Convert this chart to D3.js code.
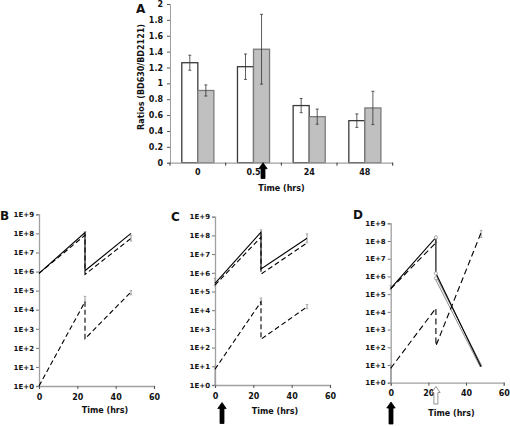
<!DOCTYPE html>
<html><head><meta charset="utf-8">
<script src="https://cdn.jsdelivr.net/npm/d3@7"></script>
<style>body{margin:0;background:#fff}svg{display:block}text{font-family:"DejaVu Sans",Verdana,sans-serif;font-weight:bold;fill:#111}</style>
</head><body>
<svg id="c" width="510" height="426"></svg>
<script>
// ---- Panel A data ----
const barCategories = ["0","0.5","24","48"];
const whiteValues = [1.26,1.21,0.72,0.53];
const whiteErr    = [0.095,0.16,0.09,0.085];
const grayValues  = [0.91,1.43,0.58,0.69];
const grayErr     = [0.07,0.44,0.095,0.21];
const barYTicks   = [0,0.2,0.4,0.6,0.8,1,1.2,1.4,1.6,1.8,2];

// ---- Panels B-D data (time in hrs, CFU) ----
const timePoints = [0,24,24,48];
const logTicks = [1,1e1,1e2,1e3,1e4,1e5,1e6,1e7,1e8,1e9];
const logTickLabels = ["1E+0","1E+1","1E+2","1E+3","1E+4","1E+5","1E+6","1E+7","1E+8","1E+9"];
const timeTicks = [0,20,40,60];

const bSolid     = [8e5,1.1e8,1.1e6,1e8];
const bDashUpper = [8e5,8e7,7e5,5.5e7];
const bDashLower = [1,2.6e4,3e2,8.5e4];

const cSolid     = [2.7e5,1.5e8,1.6e6,7e7];
const cDashUpper = [2.2e5,8e7,8.5e5,4e7];
const cDashLower = [7,2.8e4,2.8e2,1.5e4];

const dSolid     = [2.1e5,1.6e8,1.5e6,8];
const dDashUpperT = [0,24];
const dDashUpper = [2e5,8e7];
const dDottedT   = [24,48];
const dDotted    = [8e5,8];
const dDashLower = [6.5,1.6e4,1.2e2,3e8];

// error bars: [time, low, high]
const bErr = [[24,2.6e4,5e4],[48,6e4,1e5],[48,4e7,8e7],[24,8e7,1.2e8]];
const cErr = [[0,1,10],[24,2e4,4.5e4],[48,1.2e4,2e4],[48,4e7,1.2e8],[24,1e8,2e8],[0,2e5,5e5]];
const dErr = [[0,1,10],[48,1.6e8,4e8],[24,8e7,1.8e8],[0,1.8e5,3e5]];

const svg = d3.select("#c");
const axisGray = "#a0a0a0";

// ================= Panel A =================
(function(){
  const x = d3.scaleBand().domain(barCategories).range([170,392.7]);
  const sub = d3.scaleBand().domain(["w","g"]).range([11.8, x.bandwidth()-11.8]);
  const y = d3.scaleLinear().domain([0,2]).range([162.7,4]);
  const g = svg.append("g");
  // y axis
  const ya = g.append("g").attr("transform","translate(170,0)")
    .call(d3.axisLeft(y).tickValues(barYTicks).tickSize(3).tickPadding(4).tickFormat(d=>d3.format("")(+d.toFixed(1))));
  ya.select(".domain").attr("stroke",axisGray);
  ya.selectAll(".tick line").attr("stroke","#555");
  ya.selectAll("text").attr("font-size",8).attr("font-family","DejaVu Sans").attr("font-weight","bold").attr("fill","#111");
  // bars
  const groups = barCategories.map((c,i)=>({c,i}));
  const series = [{k:"w",v:whiteValues,e:whiteErr,fill:"#ffffff",stroke:"#3a3a3a"},
                  {k:"g",v:grayValues,e:grayErr,fill:"#c0c0c0",stroke:"#7a7a7a"}];
  series.forEach(s=>{
    g.selectAll(null).data(groups).enter().append("rect")
      .attr("x",d=>x(d.c)+sub(s.k)).attr("width",sub.bandwidth())
      .attr("y",d=>y(s.v[d.i])).attr("height",d=>y(0)-y(s.v[d.i]))
      .attr("fill",s.fill).attr("stroke",s.stroke).attr("stroke-width",1.3);
  });
  series.forEach(s=>{
    groups.forEach(d=>{
      const cx = x(d.c)+sub(s.k)+sub.bandwidth()/2;
      const lo = y(s.v[d.i]-s.e[d.i]), hi = y(s.v[d.i]+s.e[d.i]);
      g.append("line").attr("x1",cx).attr("x2",cx).attr("y1",lo).attr("y2",hi).attr("stroke","#333").attr("stroke-width",0.8);
      [lo,hi].forEach(yy=>g.append("line").attr("x1",cx-1.5).attr("x2",cx+1.5).attr("y1",yy).attr("y2",yy).attr("stroke","#333").attr("stroke-width",0.8));
    });
  });
  // x axis
  const xa = g.append("g").attr("transform",`translate(0,${y(0)})`)
    .call(d3.axisBottom(x).tickSize(0).tickPadding(7));
  xa.select(".domain").attr("stroke",axisGray).attr("stroke-width",1.2);
  xa.selectAll("text").attr("font-size",8).attr("font-family","DejaVu Sans").attr("font-weight","bold").attr("fill","#111");
  const bounds = barCategories.map(c=>x(c)).concat([x.range()[1]]);
  g.selectAll(null).data(bounds).enter().append("line")
    .attr("x1",d=>d).attr("x2",d=>d).attr("y1",y(0)).attr("y2",y(0)+3).attr("stroke","#333");
  g.append("text").attr("x",281.5).attr("y",191).attr("text-anchor","middle").attr("font-size",8).text("Time (hrs)");
  g.append("text").attr("transform","translate(143.5,77) rotate(-90)").attr("text-anchor","middle").attr("font-size",8).text("Ratios (BD630/BD2121)");
  g.append("text").attr("x",136).attr("y",13).attr("font-size",12).text("A");
  // arrow
  drawArrow(g, 263, 162.7, 178.5, "#000", "#000");
})();

function drawArrow(g, cx, top, bottom, fill, stroke){
  const hw = 4.2, sw = 2, hh = 6;
  const pts = [[cx,top],[cx+hw,top+hh],[cx+sw,top+hh],[cx+sw,bottom],[cx-sw,bottom],[cx-sw,top+hh],[cx-hw,top+hh]];
  g.append("path").attr("d","M"+pts.map(p=>p.join(",")).join("L")+"Z").attr("fill",fill).attr("stroke",stroke).attr("stroke-width",0.8);
}

// ================= Log panels =================
function logPanel(opt){
  const x = d3.scaleLinear().domain([0,60]).range(opt.xr);
  const y = d3.scaleLog().domain([1,1e9]).range(opt.yr);
  const g = svg.append("g");
  const ya = g.append("g").attr("transform",`translate(${opt.xr[0]},0)`)
    .call(d3.axisLeft(y).tickValues(logTicks).tickSize(3).tickPadding(2).tickFormat((d,i)=>logTickLabels[i]));
  ya.select(".domain").attr("stroke",axisGray).attr("stroke-width",1.3);
  ya.selectAll(".tick line").attr("stroke","#777");
  ya.selectAll("text").attr("font-size",7).attr("font-family","DejaVu Sans").attr("font-weight","bold").attr("fill","#111");
  const xa = g.append("g").attr("transform",`translate(0,${opt.yr[0]})`)
    .call(d3.axisBottom(x).tickValues(timeTicks).tickSize(3).tickPadding(5));
  xa.select(".domain").attr("stroke",axisGray).attr("stroke-width",1.3);
  xa.selectAll(".tick line").attr("stroke","#555");
  xa.selectAll("text").attr("font-size",8).attr("font-family","DejaVu Sans").attr("font-weight","bold").attr("fill","#111");
  g.append("text").attr("x",opt.titleX).attr("y",opt.titleY).attr("text-anchor","middle").attr("font-size",8).text("Time (hrs)");
  g.append("text").attr("x",opt.lx).attr("y",opt.ly).attr("font-size",12).text(opt.label);
  const line = d3.line().x(d=>x(d[0])).y(d=>y(d[1]));
  // error bars
  (opt.err||[]).forEach(e=>{
    const cx=x(e[0]);
    g.append("line").attr("x1",cx).attr("x2",cx).attr("y1",y(e[1])).attr("y2",y(e[2])).attr("stroke","#999").attr("stroke-width",1);
    [e[1],e[2]].forEach(v=>g.append("line").attr("x1",cx-1.3).attr("x2",cx+1.3).attr("y1",y(v)).attr("y2",y(v)).attr("stroke","#999").attr("stroke-width",0.8));
  });
  opt.series.forEach(s=>{
    const pts = s.t.map((t,i)=>[t,s.v[i]]);
    if(s.double){
      g.append("path").attr("d",line(pts)).attr("fill","none").attr("stroke","#8a8a8a").attr("stroke-width",2.6);
      g.append("path").attr("d",line(pts)).attr("fill","none").attr("stroke","#fff").attr("stroke-width",1);
    } else {
      g.append("path").attr("d",line(pts)).attr("fill","none").attr("stroke",s.color||"#000")
        .attr("stroke-width",s.w||1.1).attr("stroke-dasharray",s.dash||null);
    }
    (s.markers||[]).forEach(i=>{
      g.append("circle").attr("cx",x(s.t[i])).attr("cy",y(s.v[i])).attr("r",1.6).attr("fill","#fff").attr("stroke","#999").attr("stroke-width",0.8);
    });
  });
  return {g,x,y};
}

logPanel({xr:[39,154], yr:[386,214.3], label:"B", lx:0, ly:220, titleX:105, titleY:413, err:bErr,
  series:[
    {t:timePoints, v:bDashLower, dash:"5,3"},
    {t:timePoints, v:bDashUpper, dash:"5,3"},
    {t:timePoints, v:bSolid}
  ]});

const C = logPanel({xr:[215,330], yr:[385,216.7], label:"C", lx:171, ly:220.5, titleX:275, titleY:413.5, err:cErr,
  series:[
    {t:timePoints, v:cDashLower, dash:"5,3"},
    {t:timePoints, v:cDashUpper, dash:"5,3"},
    {t:timePoints, v:cSolid}
  ]});
drawArrow(C.g, 222, 402.5, 423.5, "#000", "#000");

const D = logPanel({xr:[390.7,503.7], yr:[382.7,223.3], label:"D", lx:353, ly:218.5, titleX:451.5, titleY:415.5, err:dErr,
  series:[
    {t:dDottedT, v:dDotted, double:true, markers:[0]},
    {t:timePoints, v:dDashLower, dash:"6,3.5"},
    {t:dDashUpperT, v:dDashUpper, dash:"6,3.5"},
    {t:timePoints, v:dSolid, markers:[1,2]}
  ]});
drawArrow(D.g, 391, 402, 424, "#000", "#000");
drawArrow(D.g, D.x(24), 386.5, 404, "#fff", "#777");
</script>
</body></html>
